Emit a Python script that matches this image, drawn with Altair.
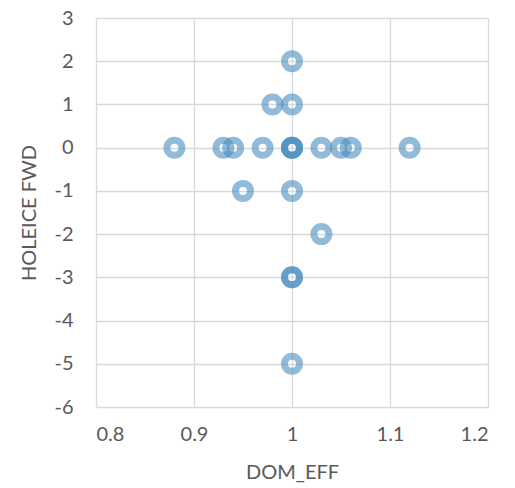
import altair as alt
import pandas as pd

# DOM_EFF vs HOLEICE FWD observations (repeated points overlap and render darker)
dom_eff = [1.00, 0.98, 1.00,
           0.88, 0.93, 0.94, 0.97, 1.00, 1.00, 1.00, 1.03, 1.05, 1.06, 1.12,
           0.95, 1.00, 1.03, 1.00, 1.00, 1.00]
holeice_fwd = [2, 1, 1,
               0, 0, 0, 0, 0, 0, 0, 0, 0, 0, 0,
               -1, -1, -2, -3, -3, -5]

x_ticks = [0.8, 0.9, 1.0, 1.1, 1.2]
y_ticks = [-6, -5, -4, -3, -2, -1, 0, 1, 2, 3]

df = pd.DataFrame({"DOM_EFF": dom_eff, "HOLEICE FWD": holeice_fwd})

font = "Lato"
text_color = "#595959"
grid_color = "#d9d9d9"

axis_style = dict(
    grid=True,
    gridColor=grid_color,
    gridWidth=1.3,
    domain=False,
    ticks=False,
    labelFontSize=20,
    labelColor=text_color,
    labelFont=font,
    titleFont=font,
    titleFontSize=20,
    titleFontWeight="normal",
    titleColor=text_color,
)

chart = (
    alt.Chart(df)
    .mark_point(
        shape="circle",
        filled=False,
        size=225,
        strokeWidth=7,
        color="#4a8fc0",
        opacity=0.6,
    )
    .encode(
        x=alt.X(
            "DOM_EFF:Q",
            scale=alt.Scale(domain=[0.8, 1.2], nice=False, zero=False),
            axis=alt.Axis(
                values=x_ticks,
                title="DOM_EFF",
                labelExpr="format(datum.value, '~g')",
                labelPadding=17,
                titlePadding=18,
                **axis_style,
            ),
        ),
        y=alt.Y(
            "HOLEICE FWD:Q",
            scale=alt.Scale(domain=[-6, 3], nice=False, zero=False),
            axis=alt.Axis(
                values=y_ticks,
                title="HOLEICE FWD",
                labelExpr="replace(datum.label, '\u2212', '-')",
                labelPadding=23,
                titlePadding=14,
                **axis_style,
            ),
        ),
    )
    .properties(
        width=392,
        height=389,
        autosize=alt.AutoSizeParams(type="none"),
        padding={"left": 96, "top": 18, "right": 27, "bottom": 81},
    )
    .configure_view(stroke=None)
)

chart.save("out.html", embed_options={"renderer": "svg", "actions": False})
